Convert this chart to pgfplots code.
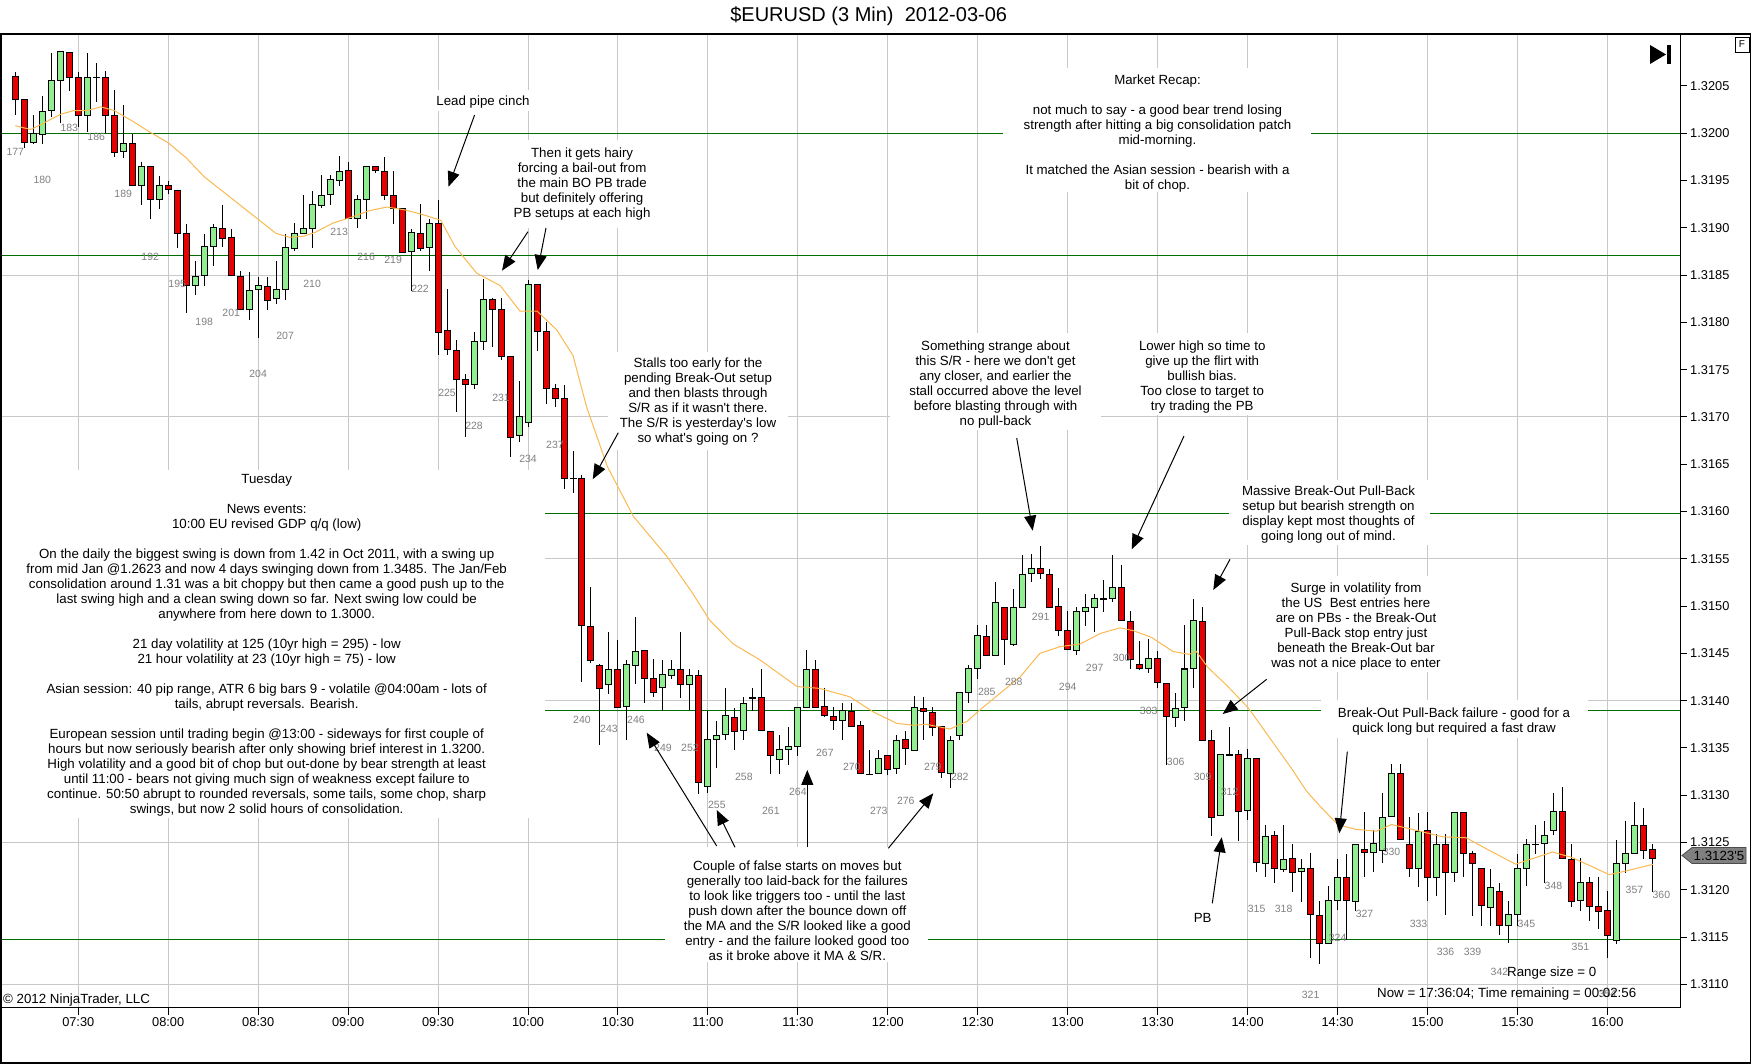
\documentclass[border=0pt]{standalone}
\usepackage{pgfplots}
\pgfplotsset{compat=1.18}
\usepackage{pgfplotstable}
\usepackage{fontspec}
\setmainfont{Liberation Sans}
\usetikzlibrary{arrows.meta}
\definecolor{cred}{RGB}{230,0,0}
\definecolor{cgreen}{RGB}{144,238,144}
\definecolor{srgreen}{RGB}{0,110,0}
\definecolor{gridgray}{RGB}{200,200,200}
\definecolor{maorange}{RGB}{250,185,80}
\definecolor{labgray}{RGB}{128,128,128}
\newcommand{\af}{\fontsize{13.3}{15}\selectfont}
\newcommand{\blf}{\fontsize{10.5}{12}\selectfont}
\pgfplotstableread{
n O H L C
177 1.32060 1.32066 1.32020 1.32036
178 1.32036 1.32037 1.31985 1.31990
179 1.31990 1.32020 1.31990 1.32000
180 1.32000 1.32041 1.31990 1.32025
181 1.32025 1.32086 1.32019 1.32056
182 1.32056 1.32086 1.32011 1.32086
183 1.32086 1.32086 1.32046 1.32060
184 1.32060 1.32065 1.32007 1.32020
185 1.32020 1.32086 1.32002 1.32060
186 1.32060 1.32076 1.32035 1.32060
187 1.32060 1.32066 1.32000 1.32020
188 1.32020 1.32046 1.31975 1.31981
189 1.31981 1.32031 1.31975 1.31990
190 1.31990 1.32000 1.31945 1.31945
191 1.31945 1.31970 1.31925 1.31965
192 1.31965 1.31965 1.31909 1.31930
193 1.31930 1.31955 1.31920 1.31945
194 1.31945 1.31951 1.31937 1.31941
195 1.31941 1.31941 1.31880 1.31895
196 1.31895 1.31905 1.31810 1.31840
197 1.31840 1.31866 1.31830 1.31850
198 1.31850 1.31895 1.31840 1.31880
199 1.31880 1.31905 1.31860 1.31900
200 1.31900 1.31925 1.31880 1.31890
201 1.31890 1.31900 1.31850 1.31850
202 1.31850 1.31855 1.31815 1.31815
203 1.31815 1.31855 1.31804 1.31835
204 1.31835 1.31850 1.31785 1.31840
205 1.31840 1.31850 1.31815 1.31825
206 1.31825 1.31866 1.31820 1.31835
207 1.31835 1.31895 1.31825 1.31880
208 1.31880 1.31905 1.31875 1.31895
209 1.31895 1.31935 1.31894 1.31900
210 1.31900 1.31941 1.31880 1.31925
211 1.31925 1.31956 1.31921 1.31935
212 1.31935 1.31956 1.31925 1.31951
213 1.31951 1.31976 1.31945 1.31961
214 1.31961 1.31970 1.31910 1.31910
215 1.31910 1.31935 1.31900 1.31930
216 1.31930 1.31965 1.31910 1.31965
217 1.31965 1.31966 1.31959 1.31961
218 1.31961 1.31976 1.31930 1.31935
219 1.31935 1.31961 1.31905 1.31921
220 1.31921 1.31921 1.31875 1.31875
221 1.31875 1.31900 1.31834 1.31895
222 1.31895 1.31925 1.31875 1.31880
223 1.31880 1.31910 1.31855 1.31905
224 1.31905 1.31930 1.31766 1.31790
225 1.31791 1.31835 1.31765 1.31771
226 1.31771 1.31781 1.31705 1.31740
227 1.31740 1.31746 1.31680 1.31735
228 1.31735 1.31791 1.31731 1.31781
229 1.31781 1.31846 1.31771 1.31826
230 1.31826 1.31826 1.31775 1.31815
231 1.31815 1.31826 1.31761 1.31765
232 1.31765 1.31765 1.31659 1.31680
233 1.31680 1.31740 1.31675 1.31700
234 1.31695 1.31846 1.31690 1.31841
235 1.31841 1.31841 1.31771 1.31791
236 1.31791 1.31801 1.31715 1.31731
237 1.31731 1.31735 1.31711 1.31720
238 1.31720 1.31735 1.31625 1.31635
239 1.31635 1.31665 1.31620 1.31635
240 1.31635 1.31639 1.31420 1.31480
241 1.31480 1.31521 1.31440 1.31444
242 1.31439 1.31439 1.31354 1.31414
243 1.31419 1.31474 1.31409 1.31434
244 1.31434 1.31464 1.31394 1.31394
245 1.31394 1.31444 1.31359 1.31439
246 1.31439 1.31489 1.31419 1.31454
247 1.31454 1.31454 1.31398 1.31424
248 1.31424 1.31444 1.31404 1.31409
249 1.31414 1.31444 1.31390 1.31428
250 1.31428 1.31444 1.31424 1.31434
251 1.31434 1.31474 1.31404 1.31419
252 1.31419 1.31434 1.31390 1.31428
253 1.31428 1.31434 1.31303 1.31314
254 1.31309 1.31390 1.31303 1.31359
255 1.31359 1.31379 1.31329 1.31364
256 1.31364 1.31414 1.31359 1.31384
257 1.31384 1.31394 1.31349 1.31369
258 1.31369 1.31404 1.31359 1.31398
259 1.31404 1.31414 1.31390 1.31404
260 1.31404 1.31434 1.31369 1.31369
261 1.31369 1.31369 1.31323 1.31344
262 1.31339 1.31364 1.31323 1.31349
263 1.31349 1.31374 1.31333 1.31353
264 1.31353 1.31394 1.31343 1.31394
265 1.31394 1.31454 1.31394 1.31434
266 1.31434 1.31444 1.31394 1.31394
267 1.31394 1.31414 1.31384 1.31384
268 1.31384 1.31394 1.31369 1.31379
269 1.31379 1.31398 1.31359 1.31390
270 1.31390 1.31398 1.31374 1.31374
271 1.31374 1.31379 1.31323 1.31323
272 1.31323 1.31349 1.31323 1.31323
273 1.31323 1.31349 1.31323 1.31339
274 1.31344 1.31344 1.31323 1.31329
275 1.31329 1.31364 1.31323 1.31359
276 1.31359 1.31369 1.31333 1.31349
277 1.31349 1.31405 1.31349 1.31394
278 1.31393 1.31405 1.31359 1.31390
279 1.31389 1.31394 1.31364 1.31373
280 1.31373 1.31373 1.31319 1.31324
281 1.31324 1.31364 1.31309 1.31359
282 1.31364 1.31409 1.31359 1.31409
283 1.31409 1.31439 1.31399 1.31434
284 1.31434 1.31480 1.31423 1.31469
285 1.31469 1.31480 1.31449 1.31449
286 1.31449 1.31525 1.31449 1.31505
287 1.31499 1.31499 1.31439 1.31465
288 1.31459 1.31520 1.31459 1.31499
289 1.31499 1.31555 1.31499 1.31534
290 1.31534 1.31555 1.31525 1.31540
291 1.31540 1.31564 1.31529 1.31534
292 1.31534 1.31540 1.31499 1.31499
293 1.31499 1.31520 1.31469 1.31474
294 1.31474 1.31495 1.31454 1.31454
295 1.31454 1.31500 1.31449 1.31495
296 1.31495 1.31514 1.31480 1.31499
297 1.31499 1.31514 1.31474 1.31509
298 1.31509 1.31529 1.31495 1.31509
299 1.31509 1.31555 1.31505 1.31520
300 1.31520 1.31544 1.31485 1.31485
301 1.31485 1.31495 1.31434 1.31445
302 1.31439 1.31465 1.31434 1.31434
303 1.31434 1.31465 1.31429 1.31445
304 1.31445 1.31454 1.31415 1.31419
305 1.31419 1.31419 1.31333 1.31384
306 1.31384 1.31409 1.31373 1.31393
307 1.31393 1.31480 1.31379 1.31434
308 1.31434 1.31509 1.31415 1.31485
309 1.31485 1.31500 1.31359 1.31359
310 1.31359 1.31369 1.31257 1.31278
311 1.31279 1.31344 1.31279 1.31344
312 1.31344 1.31373 1.31344 1.31344
313 1.31344 1.31349 1.31253 1.31284
314 1.31284 1.31349 1.31274 1.31339
315 1.31339 1.31339 1.31219 1.31229
316 1.31229 1.31269 1.31213 1.31258
317 1.31258 1.31263 1.31208 1.31223
318 1.31223 1.31269 1.31219 1.31234
319 1.31234 1.31249 1.31199 1.31219
320 1.31219 1.31234 1.31189 1.31223
321 1.31223 1.31239 1.31128 1.31174
322 1.31174 1.31189 1.31123 1.31144
323 1.31144 1.31204 1.31144 1.31189
324 1.31189 1.31234 1.31180 1.31214
325 1.31214 1.31239 1.31148 1.31189
326 1.31189 1.31249 1.31178 1.31249
327 1.31243 1.31283 1.31214 1.31239
328 1.31239 1.31263 1.31219 1.31249
329 1.31243 1.31303 1.31229 1.31278
330 1.31278 1.31334 1.31278 1.31324
331 1.31324 1.31334 1.31254 1.31254
332 1.31249 1.31278 1.31214 1.31223
333 1.31223 1.31283 1.31204 1.31263
334 1.31263 1.31283 1.31189 1.31214
335 1.31214 1.31259 1.31194 1.31249
336 1.31249 1.31259 1.31174 1.31219
337 1.31219 1.31283 1.31209 1.31283
338 1.31283 1.31283 1.31214 1.31239
339 1.31239 1.31243 1.31174 1.31229
340 1.31223 1.31224 1.31163 1.31183
341 1.31183 1.31224 1.31163 1.31204
342 1.31199 1.31208 1.31153 1.31163
343 1.31163 1.31189 1.31144 1.31174
344 1.31174 1.31239 1.31163 1.31223
345 1.31223 1.31254 1.31204 1.31249
346 1.31249 1.31269 1.31238 1.31249
347 1.31249 1.31273 1.31208 1.31258
348 1.31263 1.31303 1.31259 1.31283
349 1.31283 1.31309 1.31234 1.31234
350 1.31234 1.31249 1.31183 1.31189
351 1.31189 1.31234 1.31178 1.31208
352 1.31208 1.31214 1.31168 1.31183
353 1.31183 1.31214 1.31159 1.31178
354 1.31179 1.31199 1.31128 1.31153
355 1.31148 1.31254 1.31144 1.31229
356 1.31229 1.31274 1.31219 1.31239
357 1.31239 1.31294 1.31239 1.31269
358 1.31269 1.31289 1.31235 1.31243
359 1.31243 1.31249 1.31199 1.31234
}\candles
\begin{document}
\begin{tikzpicture}[x=1pt,y=1pt]
\path[use as bounding box] (0,0) rectangle (1752,1064);
\begin{axis}[
  at={(1pt,56pt)}, anchor=south west,
  scale only axis, width=1679pt, height=974pt,
  xmin=175.41, xmax=362.07, ymin=1.31075, ymax=1.32105,
  axis x line*=bottom, axis y line*=right,
  x axis line style={-}, y axis line style={-},
  axis line style={line width=1pt, black},
  tick align=outside, major tick length=7pt,
  every tick/.style={black, line width=1pt},
  xtick={184,194,204,214,224,234,244,254,264,274,284,294,304,314,324,334,344,354},
  xticklabels={07:30,08:00,08:30,09:00,09:30,10:00,10:30,11:00,11:30,12:00,12:30,13:00,13:30,14:00,14:30,15:00,15:30,16:00},
  ytick={1.3110,1.3115,1.3120,1.3125,1.3130,1.3135,1.3140,1.3145,1.3150,1.3155,1.3160,1.3165,1.3170,1.3175,1.3180,1.3185,1.3190,1.3195,1.3200,1.3205},
  yticklabels={1.3110,1.3115,1.3120,1.3125,1.3130,1.3135,1.3140,1.3145,1.3150,1.3155,1.3160,1.3165,1.3170,1.3175,1.3180,1.3185,1.3190,1.3195,1.3200,1.3205},
  xmajorgrids, major grid style={gridgray, line width=1pt},
  extra y ticks={1.3110,1.3125,1.3140,1.3155,1.3170,1.3185,1.3200},
  extra y tick labels={},
  extra y tick style={grid=major, major tick length=0pt},
  ticklabel style={font=\fontsize{12.8}{14}\selectfont},
  xticklabel style={inner sep=0pt, yshift=-2pt},
  yticklabel style={anchor=west, inner sep=0pt, xshift=3pt},
  /pgf/number format/assume math mode=true,
]
% support / resistance levels
\addplot[srgreen, line width=1pt] coordinates {(175.41,1.32000) (362.07,1.32000)};
\addplot[srgreen, line width=1pt] coordinates {(175.41,1.31871) (362.07,1.31871)};
\addplot[srgreen, line width=1pt] coordinates {(175.41,1.31598) (362.07,1.31598)};
\addplot[srgreen, line width=1pt] coordinates {(175.41,1.31390) (362.07,1.31390)};
\addplot[srgreen, line width=1pt] coordinates {(175.41,1.31147) (362.07,1.31147)};
% wicks
\addplot[draw=none, mark=none, error bars/.cd, y dir=both, y explicit, error mark=none,
  error bar style={draw=black, line width=1pt}]
  table[x=n, y expr={(\thisrow{H}+\thisrow{L})/2}, y error expr={(\thisrow{H}-\thisrow{L})/2}] {\candles};
% body outlines
\addplot[draw=none, mark=none, error bars/.cd, y dir=both, y explicit, error mark=none,
  error bar style={draw=black, line width=7pt, line cap=butt}]
  table[x=n, y expr={(\thisrow{O}+\thisrow{C})/2}, y error expr={abs(\thisrow{C}-\thisrow{O})/2+0.0000053}] {\candles};
% up bodies
\addplot[draw=none, mark=none, restrict expr to domain={\thisrow{C}-\thisrow{O}}{0.000001:1},
  error bars/.cd, y dir=both, y explicit, error mark=none,
  error bar style={draw=cgreen, line width=5pt, line cap=butt}]
  table[x=n, y expr={(\thisrow{O}+\thisrow{C})/2}, y error expr={abs(\thisrow{C}-\thisrow{O})/2-0.0000053}] {\candles};
% down bodies
\addplot[draw=none, mark=none, restrict expr to domain={\thisrow{O}-\thisrow{C}}{0.000001:1},
  error bars/.cd, y dir=both, y explicit, error mark=none,
  error bar style={draw=cred, line width=5pt, line cap=butt}]
  table[x=n, y expr={(\thisrow{O}+\thisrow{C})/2}, y error expr={abs(\thisrow{C}-\thisrow{O})/2-0.0000053}] {\candles};
% moving average
\addplot[maorange, line width=1pt, mark=none] coordinates {
(177,1.32008) (178.7,1.32004) (180,1.32010) (182,1.32020) (183.5,1.32024) (185,1.32024)
(186.5,1.32028) (188,1.32024) (190,1.32013) (192,1.32001) (194,1.31990) (196,1.31974)
(198,1.31954) (200,1.31939) (202,1.31924) (204,1.31909) (206,1.31894) (207.5,1.31890)
(209,1.31891) (210.3,1.31895) (212.3,1.31905) (214.3,1.31911) (216.3,1.31918) (218.3,1.31922)
(220.3,1.31919) (222.3,1.31914) (224.3,1.31908) (225.9,1.31880) (228.3,1.31852) (230.9,1.31839)
(233.1,1.31812) (235,1.31812) (237.2,1.31792) (239,1.31765) (240.5,1.31711) (242.8,1.31648)
(245.7,1.31595) (249.4,1.31553) (252.2,1.31515) (254.2,1.31485) (256.8,1.31460) (259.8,1.31443)
(263.9,1.31415) (266.4,1.31413) (269.8,1.31404) (272.4,1.31388) (275,1.31376) (276.8,1.31374)
(278.3,1.31375) (280.9,1.31370) (282.8,1.31378) (284.2,1.31390) (286.5,1.31408) (288.7,1.31425)
(290.9,1.31450) (293.1,1.31457) (295.4,1.31460) (297.6,1.31471) (299.8,1.31477) (301.3,1.31474)
(303.3,1.31467) (305.7,1.31452) (307.5,1.31449) (308.3,1.31452) (309.6,1.31435) (311.8,1.31415)
(314.1,1.31392) (316.5,1.31360) (318.9,1.31328) (320.5,1.31305) (321.5,1.31294) (323.7,1.31272)
(324.3,1.31268) (326,1.31264) (328.3,1.31262) (330,1.31269) (332.7,1.31263) (335.7,1.31256)
(338.3,1.31255) (340.8,1.31242) (343.8,1.31227) (345.7,1.31233) (347.9,1.31240) (350.1,1.31234)
(352.4,1.31224) (354.2,1.31216) (356.1,1.31220) (359.1,1.31227)};
\end{axis}
\begin{scope}[shift={(0,1064)}, y=-1pt]
% bar numbers
\foreach \n/\yy in {177/151.7,180/180.3,183/128.3,186/137.3,189/194.3,192/256.7,195/284.3,198/322.3,201/313.3,204/374.3,207/336,210/284.3,213/232.3,216/256.7,219/260,222/289.3,225/393.3,228/426,231/398.3,234/459.3,237/445,240/720,243/729.3,246/720,249/748.3,252/748.3,255/805,258/777.3,261/810.7,264/791.7,267/753.3,270/767.3,273/810.7,276/800.7,279/766.7,282/777.3,285/691.7,288/682.3,291/616.7,294/687.3,297/668.3,300/658.3,303/710.7,306/762.3,309/777.3,312/791.7,315/909.3,318/909.3,321/995,324/938.3,327/914.3,330/852.3,333/924,336/952.3,339/952.3,342/971.7,345/924,348/886,351/947.3,354/994,357/890,360/895}
  \node[font=\blf, text=labgray, inner sep=0pt] at ({15.3+(\n-177)*8.995},\yy) {\n};
% white boxes behind notes
\fill[white] (1,470) rectangle (545,818);
\fill[white] (665,847) rectangle (928,962);
\fill[white] (1321,700) rectangle (1588,738);
\fill[white] (1229,480) rectangle (1430,545);
\fill[white] (1003,68) rectangle (1311,192);
\fill[white] (608,352) rectangle (788,450);
\fill[white] (890,333) rectangle (1101,430);
\fill[white] (1127,333) rectangle (1277,415);
\fill[white] (1262,576) rectangle (1450,672);
\fill[white] (495,140) rectangle (670,228);
\fill[white] (430,90) rectangle (536,111);
\fill[white] (1190,908) rectangle (1216,928);
\tikzset{ann/.style={font=\af, align=center, inner sep=0pt, anchor=north}}
\node[ann] at (266.7,473.3) {Tuesday\\[15pt]News events:\\10:00 EU revised GDP q/q (low)\\[15pt]On the daily the biggest swing is down from 1.42 in Oct 2011, with a swing up\\from mid Jan @1.2623 and now 4 days swinging down from 1.3485. The Jan/Feb\\consolidation around 1.31 was a bit choppy but then came a good push up to the\\last swing high and a clean swing down so far. Next swing low could be\\anywhere from here down to 1.3000.\\[15pt]21 day volatility at 125 (10yr high = 295) - low\\21 hour volatility at 23 (10yr high = 75) - low\\[15pt]Asian session: 40 pip range, ATR 6 big bars 9 - volatile @04:00am - lots of\\tails, abrupt reversals. Bearish.\\[15pt]European session until trading begin @13:00 - sideways for first couple of\\hours but now seriously bearish after only showing brief interest in 1.3200.\\High volatility and a good bit of chop but out-done by bear strength at least\\until 11:00 - bears not giving much sign of weakness except failure to\\continue. 50:50 abrupt to rounded reversals, some tails, some chop, sharp\\swings, but now 2 solid hours of consolidation.};
\node[ann] at (797.3,860.7) {Couple of false starts on moves but\\generally too laid-back for the failures\\to look like triggers too - until the last\\push down after the bounce down off\\the MA and the S/R looked like a good\\entry - and the failure looked good too\\as it broke above it MA \& S/R.};
\node[ann] at (698,357.7) {Stalls too early for the\\pending Break-Out setup\\and then blasts through\\S/R as if it wasn\textquotesingle t there.\\The S/R is yesterday\textquotesingle s low\\so what\textquotesingle s going on ?};
\node[ann] at (582.1,148) {Then it gets hairy\\forcing a bail-out from\\the main BO PB trade\\but definitely offering\\PB setups at each high};
\node[ann] at (483,95.5) {Lead pipe cinch};
\node[ann] at (995.5,340.2) {Something strange about\\this S/R - here we don\textquotesingle t get\\any closer, and earlier the\\stall occurred above the level\\before blasting through with\\no pull-back};
\node[ann] at (1202.2,340.2) {Lower high so time to\\give up the flirt with\\bullish bias.\\Too close to target to\\try trading the PB};
\node[ann] at (1328.5,485.5) {Massive Break-Out Pull-Back\\setup but bearish strength on\\display kept most thoughts of\\going long out of mind.};
\node[ann] at (1356,582.3) {Surge in volatility from\\the US\ \ Best entries here\\are on PBs - the Break-Out\\Pull-Back stop entry just\\beneath the Break-Out bar\\was not a nice place to enter};
\node[ann] at (1454,707.7) {Break-Out Pull-Back failure - good for a\\quick long but required a fast draw};
\node[ann] at (1157.5,74.3) {Market Recap:\\[15pt]not much to say - a good bear trend losing\\strength after hitting a big consolidation patch\\mid-morning.\\[15pt]It matched the Asian session - bearish with a\\bit of chop.};
\node[ann] at (1202.7,913.3) {PB};
\node[font=\af, inner sep=0pt, anchor=west] at (3,1000) {\textcopyright{} 2012 NinjaTrader, LLC};
\node[font=\af, inner sep=0pt, anchor=west] at (1507,973) {Range size = 0};
\node[font=\af, inner sep=0pt, anchor=west] at (1377,994) {Now = 17:36:04; Time remaining = 00:02:56};
% arrows
\begin{scope}[line width=1pt, -{Triangle[length=15pt,width=12pt]}]
\draw (474.6,115) -- (448.5,186.7);
\draw (528,231.7) -- (502,270.7);
\draw (546,228) -- (537.7,270);
\draw (618.3,432.7) -- (592.7,479.3);
\draw (716.7,846) -- (646.7,732.7);
\draw (735,847.3) -- (716.7,810);
\draw (807.3,846.7) -- (807.3,770);
\draw (888.3,848.3) -- (933.3,793.3);
\draw (1016.7,438) -- (1032.7,530.7);
\draw (1184,436) -- (1131.7,549.3);
\draw (1230,559.3) -- (1213.3,590);
\draw (1266.7,679.3) -- (1222.7,714);
\draw (1347.3,751.7) -- (1339.3,833.3);
\draw (1212.3,903.3) -- (1221.7,837.3);
\end{scope}
% title
\node[font=\fontsize{20}{22}\selectfont, inner sep=0pt] at (868.7,16) {\$EURUSD (3 Min)\ \ 2012-03-06};
% frame
\draw[black, line width=1.3pt] (1,34) -- (1750.5,34) -- (1750.5,1063) -- (1,1063) -- cycle;
\draw[line width=0.8pt] (1735,37) rectangle (1749,52);
\node[font=\fontsize{10}{12}\selectfont, inner sep=0pt] at (1742,44.5) {F};
\fill (1650,45) -- (1666,54.5) -- (1650,64) -- cycle;
\fill (1667.3,45) rectangle (1670.7,64);
% current price marker
\filldraw[fill=labgray, draw=black!70, line width=0.8pt] (1682,855.5) -- (1692,847.5) -- (1746,847.5) -- (1746,863.5) -- (1692,863.5) -- cycle;
\node[font=\af, inner sep=0pt] at (1719,855.5) {1.3123\textquotesingle 5};
\end{scope}
\end{tikzpicture}
\end{document}
